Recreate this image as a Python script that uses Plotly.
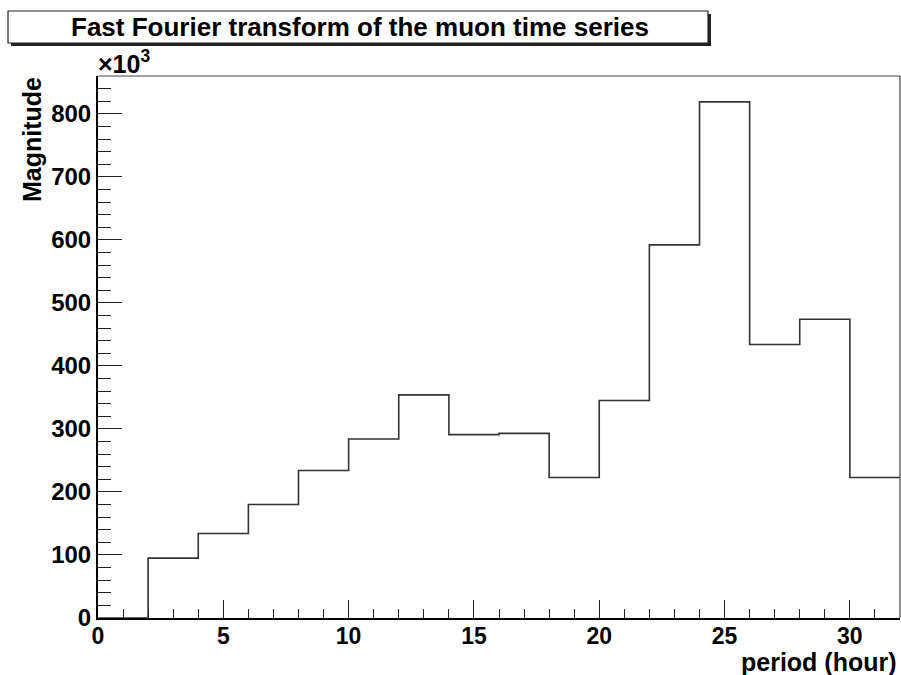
import plotly.graph_objects as go

# FFT magnitude per period bin (units of 10^3)
bin_edges = [0, 2, 4, 6, 8, 10, 12, 14, 16, 18, 20, 22, 24, 26, 28, 30, 32]
magnitude_k = [0, 95, 134, 180, 234, 284, 354, 291, 293, 223, 345, 592, 819, 434, 474, 223]
y_tick_values = [0, 100, 200, 300, 400, 500, 600, 700, 800]
x_tick_values = [0, 5, 10, 15, 20, 25, 30]

FONT = "Liberation Sans, Arial, Helvetica, sans-serif"
W, H = 901, 675
L, R, T, B = 98, 1, 76, 57

# step outline: each bin value held until the next edge, last one held to the end
step_x = bin_edges
step_y = magnitude_k + [magnitude_k[-1]]

fig = go.Figure()
fig.add_trace(go.Scatter(
    x=step_x, y=step_y, mode="lines", line_shape="hv",
    line=dict(color="#333333", width=1.6), hoverinfo="skip", showlegend=False,
))

fig.update_xaxes(
    range=[0, 32], tickvals=x_tick_values, ticks="inside", ticklen=18, tickwidth=1.3,
    tickcolor="#222", showline=True, linecolor="black", linewidth=2, showgrid=False,
    zeroline=False, ticklabelstandoff=-4,
    tickfont=dict(family=FONT, size=23, color="black", weight="bold"),
    minor=dict(dtick=1, ticks="inside", ticklen=9, tickwidth=1.3, tickcolor="#222", showgrid=False),
)
fig.update_yaxes(
    range=[0, 860], tickvals=y_tick_values, ticks="inside", ticklen=24, tickwidth=1.3,
    tickcolor="#222", showline=True, linecolor="black", linewidth=2, showgrid=False,
    zeroline=False,
    tickfont=dict(family=FONT, size=24, color="black", weight="bold"),
    minor=dict(dtick=20, ticks="inside", ticklen=13, tickwidth=1.3, tickcolor="#222", showgrid=False),
)

shapes = [
    # top and right frame of the plot area
    dict(type="line", xref="paper", yref="paper", x0=0, x1=1, y0=1, y1=1,
         line=dict(color="#444", width=1.2)),
    dict(type="line", xref="paper", yref="paper", x0=1, x1=1, y0=0, y1=1,
         line=dict(color="#444", width=1.2)),
]

# title box with drop shadow (pixel -> paper coordinates)
def px(x):
    return (x - L) / (W - L - R)

def py(y):
    return (H - B - y) / (H - T - B)

shapes.append(dict(type="rect", xref="paper", yref="paper",
                   x0=px(11), x1=px(711), y0=py(46), y1=py(14),
                   fillcolor="#222", line=dict(width=0), layer="above"))
shapes.append(dict(type="rect", xref="paper", yref="paper",
                   x0=px(8), x1=px(708), y0=py(43), y1=py(11),
                   fillcolor="white", line=dict(color="#222", width=1.2), layer="above"))

annotations = [
    dict(text="Fast Fourier transform of the muon time series", xref="paper", yref="paper",
         x=px(360), y=py(27), xanchor="center", yanchor="middle", showarrow=False,
         font=dict(family=FONT, size=26, color="black", weight="bold")),
    dict(text="×10<sup>3</sup>", xref="paper", yref="paper",
         x=px(96), y=py(80), xanchor="left", yanchor="bottom", showarrow=False,
         font=dict(family=FONT, size=25, color="black", weight="bold")),
    dict(text="Magnitude", xref="paper", yref="paper", textangle=-90,
         x=px(32), y=py(140), xanchor="center", yanchor="middle", showarrow=False,
         font=dict(family=FONT, size=25, color="black", weight="bold")),
    dict(text="period (hour)", xref="paper", yref="paper",
         x=px(899), y=py(662), xanchor="right", yanchor="middle", showarrow=False,
         font=dict(family=FONT, size=25, color="black", weight="bold")),
]

fig.update_layout(
    width=W, height=H, margin=dict(l=L, r=R, t=T, b=B, pad=0),
    paper_bgcolor="white", plot_bgcolor="white",
    shapes=shapes, annotations=annotations,
    font=dict(family=FONT, color="black"),
)

fig.write_html("out.html")
